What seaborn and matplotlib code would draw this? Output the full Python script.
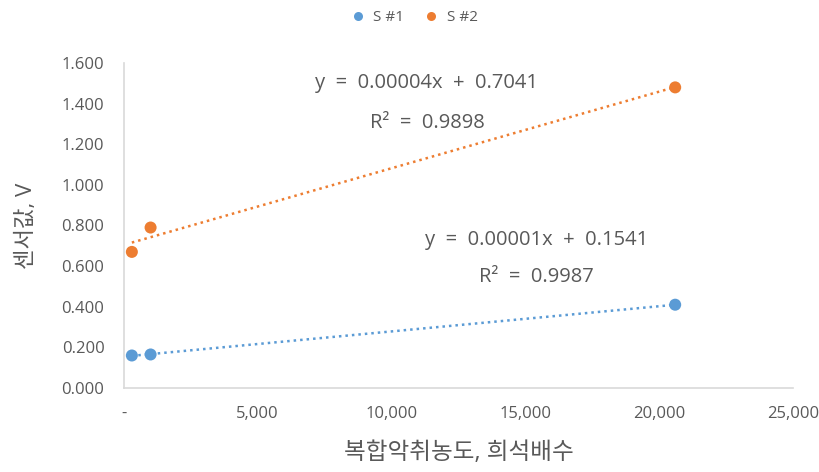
import numpy as np
import pandas as pd
import matplotlib
matplotlib.use("Agg")
import matplotlib.pyplot as plt
import seaborn as sns
from matplotlib.ticker import FuncFormatter

# Dilution factor (x) and sensor readings (V) for two sensors
dilution = [300, 1000, 20600]
sensor1 = [0.160, 0.165, 0.410]
sensor2 = [0.670, 0.790, 1.480]
series_names = ["S #1", "S #2"]
eq_labels = ["y  =  0.00001x  +  0.1541", "y  =  0.00004x  +  0.7041"]
r2_labels = ["R²  =  0.9987", "R²  =  0.9898"]
x_ticks = [0, 5000, 10000, 15000, 20000, 25000]
y_ticks = [0.0, 0.2, 0.4, 0.6, 0.8, 1.0, 1.2, 1.4, 1.6]

df = pd.DataFrame({
    "x": dilution * 2,
    "y": sensor1 + sensor2,
    "series": [series_names[0]] * 3 + [series_names[1]] * 3,
})

sns.set_theme(style="white")
plt.rcParams["font.family"] = ["Open Sans", "Noto Sans CJK KR", "DejaVu Sans"]

text_c = "#595959"
colors = {"S #1": "#5B9BD5", "S #2": "#ED7D31"}

fig = plt.figure(figsize=(8.2, 4.72), dpi=100)
ax = fig.add_axes([0.151, 0.178, 0.816, 0.6885])

for name in series_names:
    sub = df[df["series"] == name]
    sns.regplot(data=sub, x="x", y="y", ax=ax, ci=None, scatter=False,
                line_kws=dict(color=colors[name], linestyle=(0, (1, 1.6)), lw=1.8))
sns.scatterplot(data=df, x="x", y="y", hue="series", palette=colors, ax=ax,
                s=75, edgecolor="none", zorder=3)

ax.set_xlim(0, 25000)
ax.set_ylim(0, 1.6)
ax.set_xticks(x_ticks)
ax.set_yticks(y_ticks)
ax.xaxis.set_major_formatter(FuncFormatter(lambda v, p: "-" if v == 0 else f"{v:,.0f}"))
ax.yaxis.set_major_formatter(FuncFormatter(lambda v, p: f"{v:.3f}"))
ax.tick_params(axis="both", length=0, labelsize=12, colors=text_c)
ax.tick_params(axis="y", pad=14)
ax.tick_params(axis="x", pad=13)

for side in ["top", "right"]:
    ax.spines[side].set_visible(False)
for side in ["left", "bottom"]:
    ax.spines[side].set_color("#D9D9D9")
    ax.spines[side].set_linewidth(1.2)

ax.set_xlabel("복합악취농도, 희석배수", fontsize=17, color=text_c)
ax.set_ylabel("센서값, V", fontsize=16, color=text_c)
ax.xaxis.set_label_coords(0.5, -0.162)
ax.yaxis.set_label_coords(-0.130, 0.5)

# Trendline equations
ax.text(0.617, 0.455, eq_labels[0], transform=ax.transAxes, ha="center", va="center",
        fontsize=14.5, color=text_c)
ax.text(0.617, 0.342, r2_labels[0], transform=ax.transAxes, ha="center", va="center",
        fontsize=14.5, color=text_c)
ax.text(0.453, 0.938, eq_labels[1], transform=ax.transAxes, ha="center", va="center",
        fontsize=14.5, color=text_c)
ax.text(0.453, 0.815, r2_labels[1], transform=ax.transAxes, ha="center", va="center",
        fontsize=14.5, color=text_c)

leg = ax.legend(loc="center", bbox_to_anchor=(0.5, 0.962), bbox_transform=fig.transFigure,
                ncol=2, frameon=False, fontsize=11, handletextpad=0.0, columnspacing=0.8,
                markerscale=0.75)
for t in leg.get_texts():
    t.set_color(text_c)

fig.savefig("out.png", dpi=100)
